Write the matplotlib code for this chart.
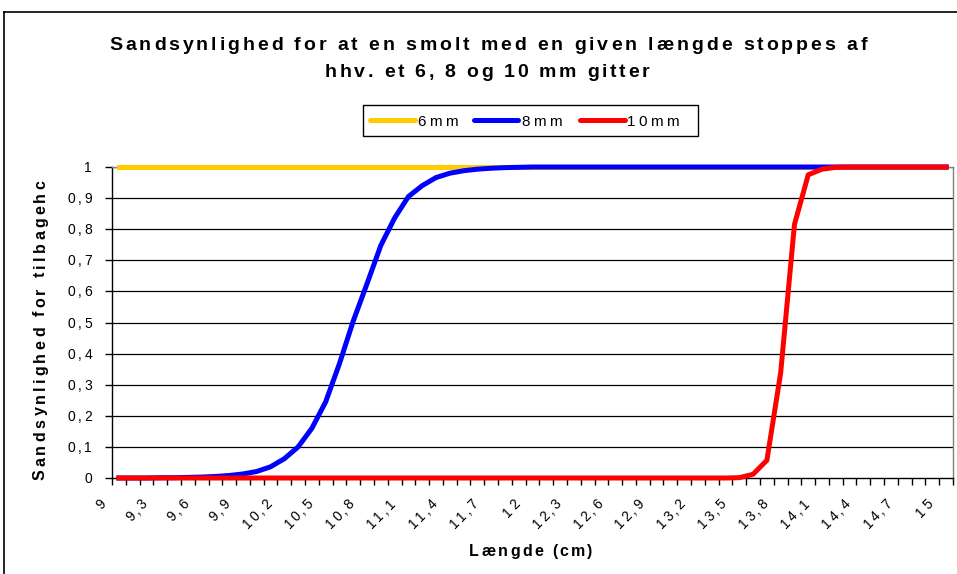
import numpy as np
import matplotlib
matplotlib.use('Agg')
import matplotlib.pyplot as plt
from matplotlib.font_manager import FontProperties, findfont, get_font
from matplotlib.transforms import IdentityTransform
from matplotlib.lines import Line2D
from matplotlib.patches import Rectangle

W, H, DPI = 957, 574, 100

# lengths (cm), one category per 0.1 cm
lengths = [9.0, 9.1, 9.2, 9.3, 9.4, 9.5, 9.6, 9.7, 9.8, 9.9,
           10.0, 10.1, 10.2, 10.3, 10.4, 10.5, 10.6, 10.7, 10.8, 10.9,
           11.0, 11.1, 11.2, 11.3, 11.4, 11.5, 11.6, 11.7, 11.8, 11.9,
           12.0, 12.1, 12.2, 12.3, 12.4, 12.5, 12.6, 12.7, 12.8, 12.9,
           13.0, 13.1, 13.2, 13.3, 13.4, 13.5, 13.6, 13.7, 13.8, 13.9,
           14.0, 14.1, 14.2, 14.3, 14.4, 14.5, 14.6, 14.7, 14.8, 14.9,
           15.0]

p_6mm = [1.0, 1.0, 1.0, 1.0, 1.0, 1.0, 1.0, 1.0, 1.0, 1.0,
         1.0, 1.0, 1.0, 1.0, 1.0, 1.0, 1.0, 1.0, 1.0, 1.0,
         1.0, 1.0, 1.0, 1.0, 1.0, 1.0, 1.0, 1.0, 1.0, 1.0,
         1.0, 1.0, 1.0, 1.0, 1.0, 1.0, 1.0, 1.0, 1.0, 1.0,
         1.0, 1.0, 1.0, 1.0, 1.0, 1.0, 1.0, 1.0, 1.0, 1.0,
         1.0, 1.0, 1.0, 1.0, 1.0, 1.0, 1.0, 1.0, 1.0, 1.0,
         1.0]

p_8mm = [0.000, 0.000, 0.000, 0.001, 0.001, 0.002, 0.003, 0.005, 0.008, 0.013,
         0.021, 0.036, 0.062, 0.100, 0.160, 0.245, 0.368, 0.505, 0.625, 0.748,
         0.836, 0.905, 0.940, 0.966, 0.980, 0.988, 0.993, 0.996, 0.998, 0.999,
         1.0, 1.0, 1.0, 1.0, 1.0, 1.0, 1.0, 1.0, 1.0, 1.0,
         1.0, 1.0, 1.0, 1.0, 1.0, 1.0, 1.0, 1.0, 1.0, 1.0,
         1.0, 1.0, 1.0, 1.0, 1.0, 1.0, 1.0, 1.0, 1.0, 1.0,
         1.0]

p_10mm = [0.0, 0.0, 0.0, 0.0, 0.0, 0.0, 0.0, 0.0, 0.0, 0.0,
          0.0, 0.0, 0.0, 0.0, 0.0, 0.0, 0.0, 0.0, 0.0, 0.0,
          0.0, 0.0, 0.0, 0.0, 0.0, 0.0, 0.0, 0.0, 0.0, 0.0,
          0.0, 0.0, 0.0, 0.0, 0.0, 0.0, 0.0, 0.0, 0.0, 0.0,
          0.0, 0.0, 0.0, 0.0, 0.0, 0.001, 0.012, 0.057, 0.338, 0.815,
          0.975, 0.993, 0.999, 1.0, 1.0, 1.0, 1.0, 1.0, 1.0, 1.0,
          1.0]

series_names = ['6mm', '8mm', '10mm']
series_colors = ['#FFCC00', '#0000FF', '#FF0000']
y_ticks = [0, 0.1, 0.2, 0.3, 0.4, 0.5, 0.6, 0.7, 0.8, 0.9, 1]

title_lines = ['Sandsynlighed for at en smolt med en given længde stoppes af',
               'hhv. et 6, 8 og 10 mm gitter']
x_title = 'Længde (cm)'
y_title = 'Sandsynlighed for tilbagehc'

fig = plt.figure(figsize=(W / DPI, H / DPI), dpi=DPI)
fig.patch.set_facecolor('white')


def spaced(x, y, s, size, gap, weight='normal', angle=0, ha='left'):
    # draw text char by char with extra tracking; x, y = baseline point in
    # pixels from the top-left corner
    prop = FontProperties(family='Liberation Sans', size=size, weight=weight)
    font = get_font(findfont(prop))
    font.set_size(size, DPI)
    adv = [font.load_char(ord(ch)).linearHoriAdvance / 65536 for ch in s]
    total = sum(adv) + gap * (len(s) - 1)
    c, sn = np.cos(np.radians(angle)), np.sin(np.radians(angle))
    pos = -{'left': 0, 'center': total / 2, 'right': total}[ha]
    for ch, a in zip(s, adv):
        fig.text(x + pos * c, (H - y) + pos * sn, ch, fontproperties=prop,
                 rotation=angle, rotation_mode='anchor', ha='left',
                 va='baseline', transform=IdentityTransform(), color='black')
        pos += a + gap


# plot area in pixels
left, right, top, bottom = 112, 953, 167, 478
ax = fig.add_axes([left / W, 1 - bottom / H, (right - left) / W, (bottom - top) / H])

xs = np.arange(len(lengths))
for vals, name, col in zip([p_6mm, p_8mm, p_10mm], series_names, series_colors):
    ax.plot(xs, vals, color=col, lw=3.6, label=name, clip_on=False, zorder=3)

ax.set_xlim(-0.5, len(lengths) - 0.5)
ax.set_ylim(0, 1)
ax.set_yticks(y_ticks)
ax.set_yticklabels([])
ax.set_xticks(np.arange(len(lengths) + 1) - 0.5)
ax.set_xticklabels([])
ax.tick_params(axis='both', direction='out', length=5, width=1, color='black')
for yv in y_ticks[1:]:
    ax.axhline(yv, color='black', lw=0.9, zorder=1)
for side in ['left', 'bottom']:
    ax.spines[side].set_color('black')
    ax.spines[side].set_linewidth(1.0)
for side in ['top', 'right']:
    ax.spines[side].set_color('#808080')
    ax.spines[side].set_linewidth(1.0)

# tick labels with decimal commas
to_px = ax.transData
for yv in y_ticks:
    py = H - to_px.transform((0, yv))[1]
    spaced(92, py + 5, '{:g}'.format(yv).replace('.', ','), 10, 2.8, ha='right')
for k in range(0, len(lengths), 3):
    px = to_px.transform((k, 0))[0]
    spaced(px - 12, 505, '{:g}'.format(lengths[k]).replace('.', ','), 10, 2.4,
           angle=45, ha='right')

# titles
spaced(488, 50, title_lines[0], 14, 2.9, weight='bold', ha='center')
spaced(487, 77, title_lines[1], 14, 2.7, weight='bold', ha='center')
spaced(531, 556, x_title, 11.5, 2.3, weight='bold', ha='center')
spaced(45, 480, y_title, 11.5, 3.3, weight='bold', angle=90)

# legend box
fig.patches.append(Rectangle((363 / W, 1 - 136 / H), 335 / W, 31 / H,
                             transform=fig.transFigure, facecolor='white',
                             edgecolor='black', lw=1.0))
for (x0, x1, tx), name, col in zip([(370, 415, 417), (474, 518, 521), (580, 625, 627)],
                                   series_names, series_colors):
    fig.lines.append(Line2D([x0 / W, x1 / W], [1 - 120 / H, 1 - 120 / H],
                            transform=fig.transFigure, color=col, lw=3.6,
                            solid_capstyle='round'))
    spaced(tx, 125.5, name, 11, 3.2)

# chart area border
fig.lines.append(Line2D([4 / W, 1], [1 - 12 / H, 1 - 12 / H],
                        transform=fig.transFigure, color='black', lw=1.2))
fig.lines.append(Line2D([4 / W, 4 / W], [0, 1 - 12 / H],
                        transform=fig.transFigure, color='black', lw=1.2))

fig.savefig('out.png', dpi=DPI)
